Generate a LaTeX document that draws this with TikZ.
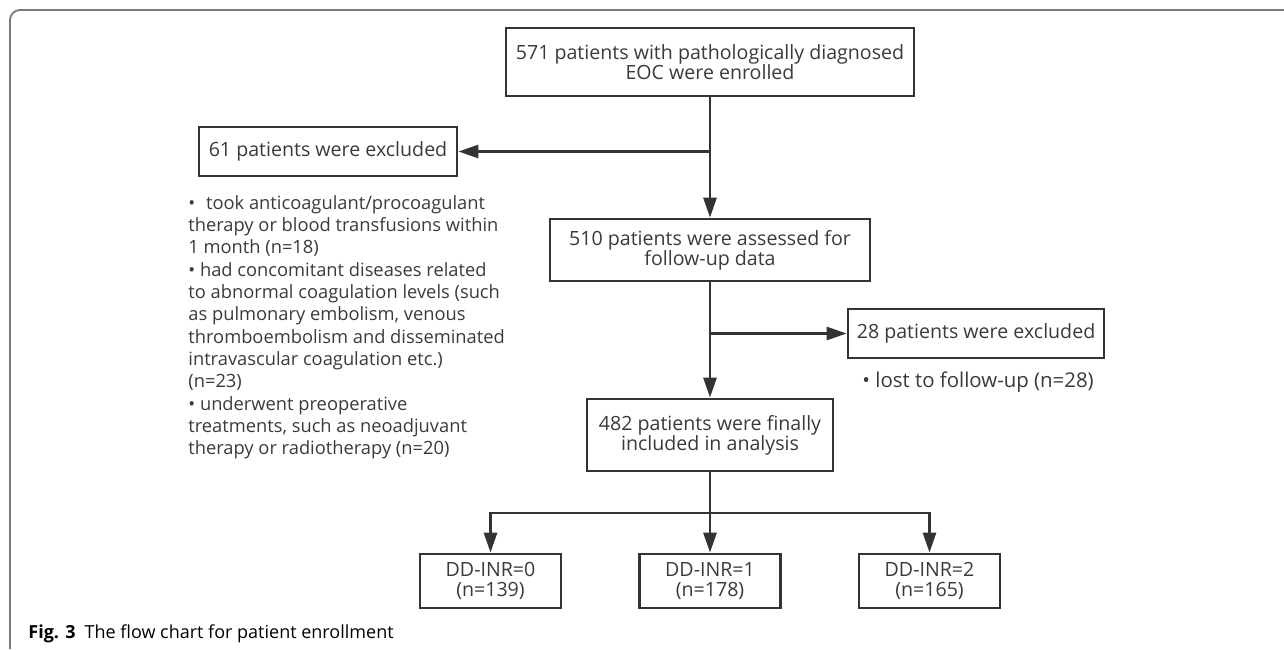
\documentclass[tikz,border=0pt]{standalone}
\usepackage{fontspec}
\setmainfont{Open Sans}
\usetikzlibrary{arrows.meta}
\definecolor{linegray}{HTML}{333333}
\definecolor{textgray}{HTML}{3A3A3A}
\definecolor{framegray}{HTML}{7A7A7A}

\begin{document}
\begin{tikzpicture}[x=0.5pt,y=-0.5pt,
  box/.style={draw=linegray, line width=1.4pt, inner sep=0pt, align=center,
    text=textgray, font=\fontsize{9.8}{10}\selectfont},
  arr/.style={draw=linegray, line width=1.4pt, -{Triangle[length=10pt,width=6.5pt]}},
  note/.style={inner sep=0pt, align=left, text=textgray,
    font=\fontsize{9.15}{11.15}\selectfont}]
\useasboundingbox (0,0) rectangle (1284,649);
\draw [framegray, line width=0.9pt, rounded corners=5pt] (10,649) -- (10,10) -- (1284,10);

\node [box, minimum width=204pt, minimum height=34pt] (enrol) at (710,62)
  {571 patients with pathologically diagnosed\\EOC were enrolled};
\node [box, minimum width=129pt, minimum height=24.5pt] (excl1) at (328,151.5)
  {61 patients were excluded};
\node [box, minimum width=160pt, minimum height=31pt] (assess) at (710,250)
  {510 patients were assessed for\\follow-up data};
\node [box, minimum width=128pt, minimum height=24.5pt] (excl2) at (976,333.5)
  {28 patients were excluded};
\node [box, minimum width=123pt, minimum height=36pt] (final) at (710,435)
  {482 patients were finally\\included in analysis};
\node [box, minimum width=70.5pt, minimum height=27pt] (g0) at (490.5,581)
  {DD-INR=0\\(n=139)};
\node [box, minimum width=70.5pt, minimum height=27pt] (g1) at (710,581)
  {DD-INR=1\\(n=178)};
\node [box, minimum width=70.5pt, minimum height=27pt] (g2) at (929.5,581)
  {DD-INR=2\\(n=165)};

\node [note, anchor=north west] (why1) at (188,195)
  {•\,\, took anticoagulant/procoagulant\\
   therapy or blood transfusions within\\
   1 month (n=18)\\
   • had concomitant diseases related\\
   to abnormal coagulation levels (such\\
   as pulmonary embolism, venous\\
   thromboembolism and disseminated\\
   intravascular coagulation etc.)\\
   (n=23)\\
   • underwent preoperative\\
   treatments, such as neoadjuvant\\
   therapy or radiotherapy (n=20)};
\node [note, anchor=west, font=\fontsize{10.2}{12}\selectfont] (why2) at (862,382)
  {• lost to follow-up (n=28)};

\draw [arr] (enrol) -- (assess);
\draw [arr] (enrol.south |- excl1.east) -- (excl1.east);
\draw [arr] (assess) -- (final);
\draw [arr] (assess.south |- excl2.west) -- (excl2.west);
\coordinate (split) at (710,513);
\draw [arr] (final) -- (g1);
\draw [arr] (split) -| (g0);
\draw [arr] (split) -| (g2);

\node [anchor=base west, inner sep=0pt, text=black, font=\fontsize{9}{11}\selectfont]
  (caption) at (28,638) {\textbf{Fig. 3}\enspace The flow chart for patient enrollment};
\end{tikzpicture}
\end{document}
